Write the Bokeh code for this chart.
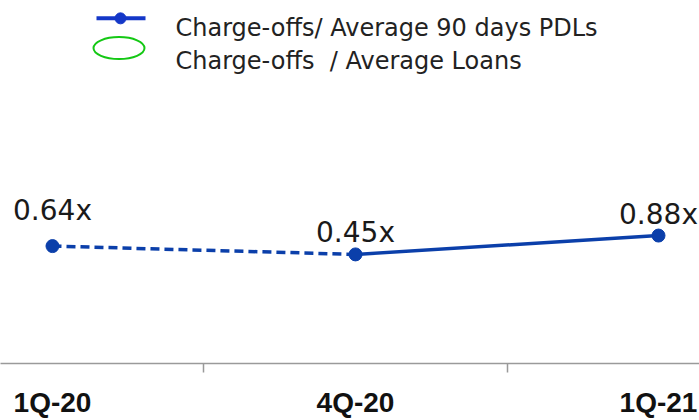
from bokeh.plotting import figure
from bokeh.models import Range1d, FixedTicker, ColumnDataSource
from bokeh.core.properties import value
from bokeh.embed import file_html
from bokeh.resources import INLINE

# ---- data ----
categories = ["1Q-20", "4Q-20", "1Q-21"]
ratio_values = [0.64, 0.45, 0.88]
ratio_labels = ["0.64x", "0.45x", "0.88x"]
label_offsets = [-36, -22, -21]

series_pdl = "Charge-offs/ Average 90 days PDLs"
series_loans = "Charge-offs\u00a0 / Average Loans"

BLUE = "#0B3FAA"
LEG_BLUE = "#1437C8"
GREEN = "#14C814"
FONT = "DejaVu Sans"

W, H, FRAME_H = 699, 420, 366
X0, X1 = -0.1716, 2.1353
Y0, Y1 = -2.039, 6.243


def sx(px):
    # screen pixel -> x data (used only to place the legend keys)
    return X0 + px * (X1 - X0) / W


def sy(py):
    return Y1 - py * (Y1 - Y0) / FRAME_H


xs = list(range(len(categories)))

p = figure(width=W, height=H, output_backend="svg", toolbar_location=None,
           x_range=Range1d(X0, X1), y_range=Range1d(Y0, Y1),
           min_border_left=0, min_border_right=0, min_border_top=0,
           min_border_bottom=H - FRAME_H,
           outline_line_color=None, background_fill_color="white", border_fill_color="white")
p.yaxis.visible = False
p.grid.visible = False

ax = p.xaxis[0]
ax.ticker = FixedTicker(ticks=xs, minor_ticks=[0.5, 1.5])
ax.major_label_overrides = {i: c for i, c in enumerate(categories)}
ax.major_tick_out = 0
ax.major_tick_in = 0
ax.minor_tick_out = 9
ax.minor_tick_in = 0
ax.minor_tick_line_color = "#999999"
ax.minor_tick_line_width = 1.5
ax.axis_line_color = "#9a9a9a"
ax.axis_line_width = 1.5
ax.major_label_text_font = "Liberation Sans"
ax.major_label_text_font_style = "bold"
ax.major_label_text_font_size = "28px"
ax.major_label_text_color = "#111111"
ax.major_label_standoff = 14

# dashed segment 1Q-20 -> 4Q-20, solid 4Q-20 -> 1Q-21
p.line(xs[0:2], ratio_values[0:2], line_color=BLUE, line_width=3.5, line_dash="9 5")
p.line(xs[1:3], ratio_values[1:3], line_color=BLUE, line_width=3.5)
p.scatter(xs, ratio_values, size=13, fill_color=BLUE, line_color=BLUE)

src = ColumnDataSource(dict(x=xs, y=ratio_values, t=ratio_labels, off=label_offsets))
p.text(x="x", y="y", text="t", y_offset="off", source=src, text_align="center",
       text_baseline="alphabetic", text_font=value(FONT), text_font_size="28px",
       text_color="#1a1a1a")

# ---- legend (drawn as keys + texts at the top) ----
p.line([sx(96), sx(145)], [sy(18), sy(18)], line_color=LEG_BLUE, line_width=4)
p.scatter([sx(120)], [sy(18)], size=11, fill_color=LEG_BLUE, line_color=LEG_BLUE)
p.ellipse(x=[sx(118.5)], y=[sy(48)], width=51, height=22, width_units="screen",
          height_units="screen", fill_color=None, line_color=GREEN, line_width=2)
p.text(x=[sx(175), sx(175)], y=[sy(28), sy(61)], text=[series_pdl, series_loans],
       text_align="left", text_baseline="alphabetic", text_font=value(FONT),
       text_font_size="24px", text_color="#222222")

open("out.html", "w").write(file_html(p, INLINE))
